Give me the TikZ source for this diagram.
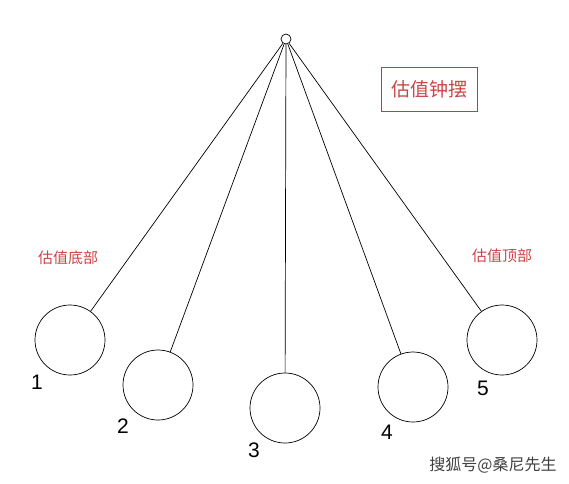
\documentclass[tikz,border=0pt]{standalone}
\usepackage{fontspec}
\setmainfont{Liberation Sans}
\newfontfamily\cjk{Noto Sans CJK SC}
\definecolor{labelred}{RGB}{200,70,70}
\definecolor{boxred}{RGB}{165,70,80}
\begin{document}
\begin{tikzpicture}[x=1pt,y=-1pt,line width=0.7pt]
\tikzset{ball/.style={draw, circle, minimum size=70pt, inner sep=0pt},
num/.style={font=\fontsize{21}{21}\selectfont},
tag/.style={text=labelred, font=\cjk\fontsize{15}{15}\selectfont}}
\useasboundingbox (0,0) rectangle (569,483);

\node[draw, circle, minimum size=10pt, inner sep=0pt] (pivot) at (286,39) {};

\foreach \n/\x/\y in {1/70/340, 2/158/385, 3/285/408, 4/413/387, 5/502/340}{
\node[ball] (b\n) at (\x,\y) {};
\draw (pivot) -- (b\n);
}

\foreach \n/\x/\y in {1/37/382, 2/123/426, 3/254/450, 4/387/432, 5/483/388}{
\node[num] (n\n) at (\x,\y) {\n};
}

\node[tag] (bottom) at (68,258) {估值底部};
\node[tag] (top) at (502,256) {估值顶部};
\node[draw=boxred, line width=0.6pt, text=labelred, font=\cjk\fontsize{19}{19}\selectfont,
  minimum width=96pt, minimum height=44pt] (title) at (429,89) {估值钟摆};

\node[text=black!75, font=\cjk\fontsize{16}{16}\selectfont] (mark) at (493,465) {搜狐号@桑尼先生};
\end{tikzpicture}
\end{document}
